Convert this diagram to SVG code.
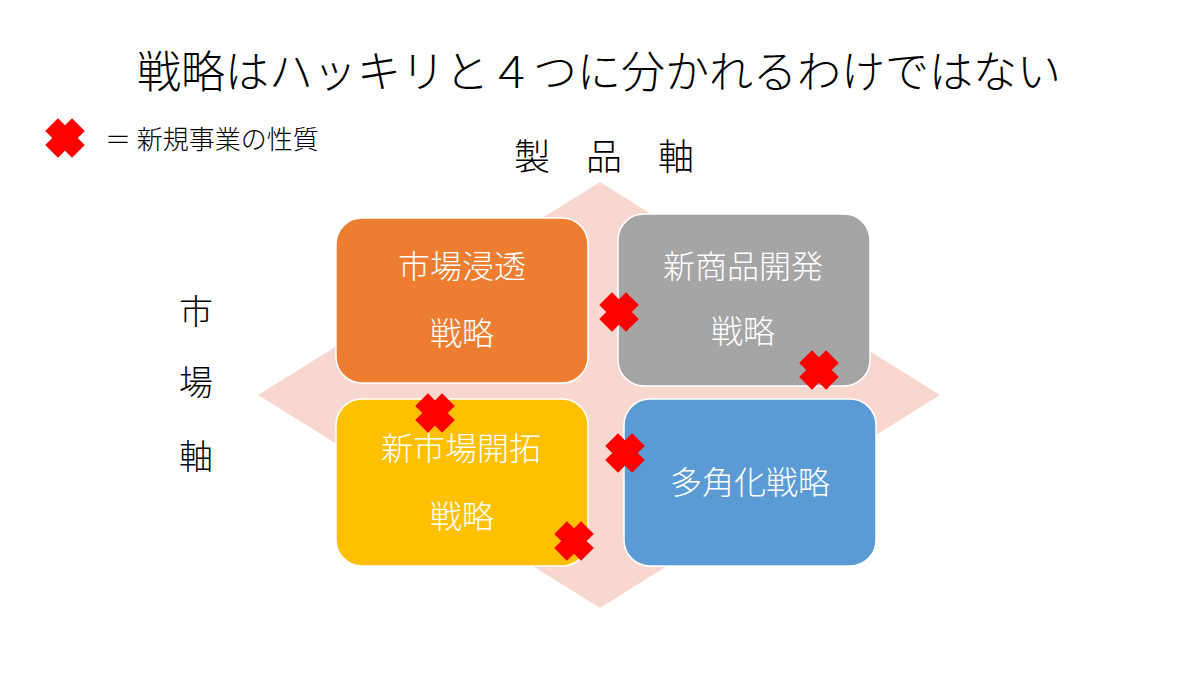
<svg xmlns="http://www.w3.org/2000/svg" xmlns:xlink="http://www.w3.org/1999/xlink" width="1200" height="675" viewBox="0 0 1200 675">
  <style>
    text { font-family: "Noto Sans CJK JP", "Noto Sans", sans-serif; dominant-baseline: central; text-anchor: middle; font-weight: 300; }
    .title { font-size: 44px; fill: #000; }
    .axis { font-size: 34px; fill: #000; }
    .legend { font-size: 26px; fill: #000; text-anchor: start; }
    .box-label { font-size: 32px; fill: #FFFFFF; }
    .box { stroke: #FFFFFF; stroke-width: 1.5; }
    .cross { fill: #FF0000; }
  </style>
  <defs>
    <path id="cross" d="M9,19 L9,9 L19,9 L19,-9 L9,-9 L9,-19 L-9,-19 L-9,-9 L-19,-9 L-19,9 L-9,9 L-9,19 Z" transform="rotate(45)"/>
  </defs>
  <rect width="1200" height="675" fill="#FFFFFF"/>

  <g id="title">
    <text class="title" x="599" y="69">戦略はハッキリと４つに分かれるわけではない</text>
  </g>

  <g id="legend">
    <use href="#cross" class="cross" transform="translate(65,138)"/>
    <text class="legend" x="105" y="137">＝ 新規事業の性質</text>
  </g>

  <g id="product-axis">
    <text class="axis" x="604" y="154" style="font-size:36px">製　品　軸</text>
  </g>
  <g id="market-axis">
    <text class="axis" x="196" y="309">市</text>
    <text class="axis" x="196" y="380">場</text>
    <text class="axis" x="196" y="454">軸</text>
  </g>

  <g id="background-diamond">
    <polygon points="600,182 940,395 600,608 258,395" fill="#F8D8CE"/>
  </g>

  <g id="market-penetration">
    <rect class="box" x="336" y="218" width="252" height="165" rx="26" fill="#ED7D31"/>
    <text class="box-label" x="462" y="264">市場浸透</text>
    <text class="box-label" x="462" y="331">戦略</text>
  </g>

  <g id="product-development">
    <rect class="box" x="618" y="214" width="252" height="172" rx="26" fill="#A5A5A5"/>
    <text class="box-label" x="743" y="264">新商品開発</text>
    <text class="box-label" x="743" y="329">戦略</text>
  </g>

  <g id="market-development">
    <rect class="box" x="336" y="399" width="252" height="167" rx="26" fill="#FFC000"/>
    <text class="box-label" x="461" y="446">新市場開拓</text>
    <text class="box-label" x="462" y="514">戦略</text>
  </g>

  <g id="diversification">
    <rect class="box" x="624" y="399" width="252" height="167" rx="26" fill="#5B9BD5"/>
    <text class="box-label" x="750" y="480">多角化戦略</text>
  </g>

  <g id="crosses">
    <use href="#cross" class="cross" transform="translate(619,312)"/>
    <use href="#cross" class="cross" transform="translate(819,370)"/>
    <use href="#cross" class="cross" transform="translate(435,413)"/>
    <use href="#cross" class="cross" transform="translate(625,453)"/>
    <use href="#cross" class="cross" transform="translate(574,541)"/>
  </g>
</svg>
